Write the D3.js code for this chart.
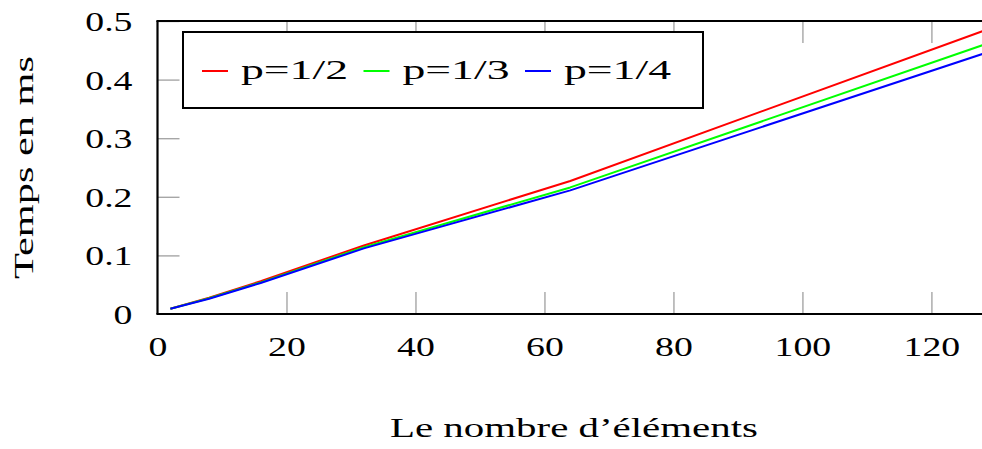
<!DOCTYPE html>
<html>
<head>
<meta charset="utf-8">
<script src="https://cdn.jsdelivr.net/npm/d3@7"></script>
<style>
  body { margin: 0; background: #fff; }
  svg text { font-family: "Liberation Serif", "DejaVu Serif", serif; font-size: 27px; fill: #000; }
</style>
</head>
<body>
<svg id="chart" width="982" height="449"></svg>
<script>
// values
var sizes = [2, 8, 16, 32, 64, 128];
var half = [0.009, 0.028, 0.056, 0.117, 0.227, 0.483];
var third = [0.009, 0.027, 0.054, 0.114, 0.216, 0.459];
var quarter = [0.009, 0.026, 0.053, 0.112, 0.211, 0.444];
var labels = ["p=1/2", "p=1/3", "p=1/4"];
var colors = ["#ff0000", "#00ff00", "#0000ff"];
var xTicks = [0, 20, 40, 60, 80, 100, 120];
var yTicks = [0, 0.1, 0.2, 0.3, 0.4, 0.5];

var series = [half, third, quarter];

var svg = d3.select("#chart");
var pLeft = 157.5, pRight = 983, pTop = 21, pBottom = 314;
var stretch = 1.4; // the glyphs in the picture are wide

var x = d3.scaleLinear().domain([0, 128]).range([pLeft, pRight]);
var y = d3.scaleLinear().domain([0, 0.5]).range([pBottom, pTop]);

// inner ticks, grey
var gx = svg.append("g")
  .attr("transform", "translate(0," + pBottom + ")")
  .call(d3.axisBottom(x).tickValues(xTicks).tickSize(-22).tickSizeOuter(0));
var gxTop = svg.append("g")
  .attr("transform", "translate(0," + pTop + ")")
  .call(d3.axisTop(x).tickValues(xTicks).tickSize(-22).tickSizeOuter(0).tickFormat(""));
var gy = svg.append("g")
  .attr("transform", "translate(" + pLeft + ",0)")
  .call(d3.axisLeft(y).tickValues(yTicks).tickSize(-22).tickSizeOuter(0)
    .tickFormat(function(d) { return d === 0 ? "0" : d3.format(".1f")(d); }));

[gx, gxTop, gy].forEach(function(g) {
  g.select(".domain").remove();
  g.attr("font-family", null).attr("font-size", null);
  g.selectAll(".tick line").attr("stroke", "#a6a6a6").attr("stroke-width", 1.4);
  g.selectAll(".tick line").filter(function(d) { return d === 0; }).remove();
  g.selectAll("text").attr("fill", null);
});

gx.selectAll("text")
  .attr("y", 42).attr("dy", null)
  .attr("transform", "scale(" + stretch + ",1)");
gy.selectAll("text")
  .attr("x", null).attr("dy", null).attr("y", 9.5)
  .attr("transform", "translate(-25,0) scale(" + stretch + ",1)");

// series
var line = d3.line()
  .x(function(d, i) { return x(sizes[i]); })
  .y(function(d) { return y(d); });

svg.selectAll(".series")
  .data(series)
  .enter().append("path")
  .attr("class", "series")
  .attr("d", line)
  .attr("fill", "none")
  .attr("stroke", function(d, i) { return colors[i]; })
  .attr("stroke-width", 2)
  .attr("stroke-linejoin", "round");

// frame
var frame = svg.append("g").attr("stroke", "#000").attr("stroke-width", 2.2);
frame.append("line").attr("x1", pLeft).attr("x2", pLeft).attr("y1", pTop).attr("y2", pBottom);
frame.append("line").attr("x1", pLeft - 1.1).attr("x2", 982).attr("y1", pBottom).attr("y2", pBottom);
frame.append("line").attr("x1", pLeft - 1.1).attr("x2", 982).attr("y1", pTop).attr("y2", pTop);

// legend
var lg = svg.append("g").attr("transform", "translate(183,32)");
lg.append("rect")
  .attr("width", 520).attr("height", 76)
  .attr("fill", "#fff").attr("stroke", "#000").attr("stroke-width", 2);
var item = lg.selectAll(".item")
  .data(labels)
  .enter().append("g")
  .attr("class", "item")
  .attr("transform", function(d, i) { return "translate(" + (19 + i * 161.5) + ",0)"; });
item.append("line")
  .attr("x1", 0).attr("x2", 26).attr("y1", 39).attr("y2", 39)
  .attr("stroke", function(d, i) { return colors[i]; })
  .attr("stroke-width", 2);
item.append("text")
  .attr("x", 39).attr("y", 47)
  .attr("textLength", 107).attr("lengthAdjust", "spacingAndGlyphs")
  .text(function(d) { return d; });

// axis titles
svg.append("text")
  .attr("x", 390).attr("y", 437)
  .attr("textLength", 368).attr("lengthAdjust", "spacingAndGlyphs")
  .text("Le nombre d’éléments");

svg.append("text")
  .attr("transform", "translate(33," + ((pTop + pBottom) / 2) + ") rotate(-90)")
  .attr("text-anchor", "middle")
  .attr("textLength", 223).attr("lengthAdjust", "spacingAndGlyphs")
  .text("Temps en ms");
</script>
</body>
</html>
